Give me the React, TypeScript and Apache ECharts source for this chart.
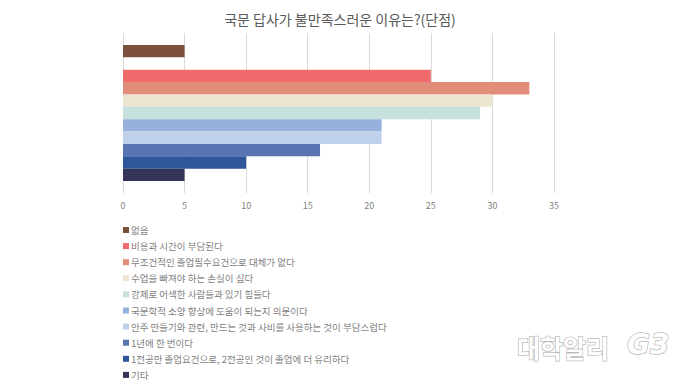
import React, { useEffect, useRef } from "react";
import * as echarts from "echarts";

const titleText = "국문 답사가 불만족스러운 이유는?(단점)";
const seriesNames = [
  "없음",
  "비용과 시간이 부담된다",
  "무조건적인 졸업필수요건으로 대체가 없다",
  "수업을 빠져야 하는 손실이 심다",
  "강제로 어색한 사람들과 있기 힘들다",
  "국문학적 소양 향상에 도움이 되는지 의문이다",
  "안주 만들기와 관련, 만드는 것과 사비를 사용하는 것이 부담스럽다",
  "1년에 한 번이다",
  "1전공만 졸업요건으로, 2전공인 것이 졸업에 더 유리하다",
  "기타",
];
const seriesValues = [5, 25, 33, 30, 29, 21, 21, 16, 10, 5];
const seriesColors = [
  "#7a4f3b",
  "#ef6b6d",
  "#e08d7a",
  "#ece5d1",
  "#c6e0dd",
  "#95b1dc",
  "#bfd0ea",
  "#5874b3",
  "#2f5698",
  "#373459",
];
const xTicks = { min: 0, max: 35, interval: 5 };
const watermarkText = "대학알리";
const logoText = "G3";

export default function App() {
  const ref = useRef<HTMLDivElement>(null);
  useEffect(() => {
    if (!ref.current) return;
    const chart = echarts.init(ref.current, undefined, { renderer: "svg" });
    const series: any[] = [];
    seriesNames.forEach((name, i) => {
      series.push({
        type: "bar",
        name,
        data: [seriesValues[i]],
        itemStyle: { color: seriesColors[i] },
        barGap: "0%",
        barCategoryGap: "15%",
      });
      if (i === 0) {
        series.push({
          type: "bar",
          name: "__gap",
          data: [null],
          barGap: "0%",
          barCategoryGap: "15%",
        });
      }
    });
    chart.setOption({
      animation: false,
      title: {
        text: titleText,
        left: "center",
        top: 7,
        textStyle: { fontSize: 14, fontWeight: "normal", color: "#595959", fontFamily: "Noto Sans CJK KR" },
      },
      grid: { left: 123, right: 126, top: 33, height: 160 },
      xAxis: {
        type: "value",
        min: xTicks.min,
        max: xTicks.max,
        interval: xTicks.interval,
        axisLine: { show: false },
        axisTick: { show: false },
        splitLine: { lineStyle: { color: "#d9d9d9" } },
        axisLabel: { color: "#7f7f7f", fontSize: 9, margin: 8, fontFamily: "Noto Sans CJK KR" },
      },
      yAxis: {
        type: "category",
        data: [""],
        inverse: true,
        axisLine: { show: false },
        axisTick: { show: false },
        axisLabel: { show: false },
      },
      legend: {
        orient: "vertical",
        left: 123,
        top: 224,
        height: 162,
        padding: 0,
        data: seriesNames,
        icon: "rect",
        itemWidth: 6,
        itemHeight: 6,
        itemGap: 4.1,
        textStyle: { fontSize: 9.5, color: "#7f7f7f", lineHeight: 12, padding: [0, 0, 0, -3], fontFamily: "Noto Sans CJK KR" },
      },
      graphic: [
        {
          type: "text",
          x: 517,
          y: 334,
          silent: true,
          style: {
            text: watermarkText,
            fontSize: 25,
            fontWeight: "bold",
            fill: "#ffffff",
            stroke: "rgba(0,0,0,0.3)",
            lineWidth: 1.5,
            fontFamily: "Noto Sans CJK KR",
          },
        },
        {
          type: "text",
          x: 627,
          y: 330,
          silent: true,
          style: {
            text: logoText,
            fontSize: 28,
            fontWeight: "bold",
            fontStyle: "italic",
            fill: "#ffffff",
            stroke: "rgba(0,0,0,0.3)",
            lineWidth: 1.5,
            fontFamily: "DejaVu Sans",
          },
        },
      ],
      series,
    });
    return () => chart.dispose();
  }, []);
  return <div ref={ref} style={{ width: 680, height: 383, position: "absolute", left: 0, top: 0 }} />;
}
